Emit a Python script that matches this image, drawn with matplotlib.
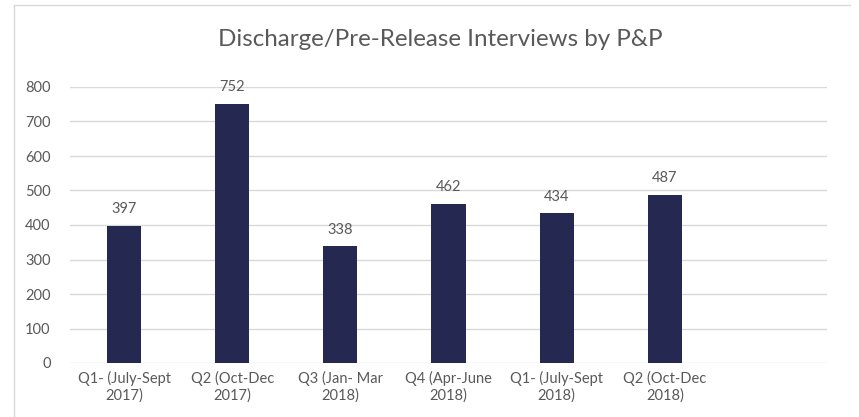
import matplotlib.pyplot as plt
from matplotlib.lines import Line2D

categories = ["Q1- (July-Sept\n2017)", "Q2 (Oct-Dec\n2017)", "Q3 (Jan- Mar\n2018)",
              "Q4 (Apr-June\n2018)", "Q1- (July-Sept\n2018)", "Q2 (Oct-Dec\n2018)", ""]
interviews = [397, 752, 338, 462, 434, 487]
yticks = [0, 100, 200, 300, 400, 500, 600, 700, 800]

plt.rcParams['font.family'] = ['Lato', 'DejaVu Sans']
text_color = '#595959'
bar_color = '#252850'
grid_color = '#D9D9D9'

fig = plt.figure(figsize=(8.59, 4.17), dpi=100)
ax = fig.add_axes([70 / 859, 1 - 363 / 417, (827 - 70) / 859, (363 - 87) / 417])

x = list(range(len(categories)))
bars = ax.bar(x[:len(interviews)], interviews, width=0.315, color=bar_color, zorder=3)
for rect, v in zip(bars, interviews):
    ax.annotate(str(v), (rect.get_x() + rect.get_width() / 2, v), xytext=(0, 7),
                textcoords='offset points', ha='center', va='bottom',
                fontsize=10.5, color=text_color)

ax.set_xlim(-0.5, len(categories) - 0.5)
ax.set_ylim(0, 800)
ax.set_yticks(yticks)
ax.set_xticks(x)
ax.set_xticklabels(categories, fontsize=10.5, color=text_color, linespacing=1.15)
ax.tick_params(axis='y', labelsize=10.5, labelcolor=text_color, length=0, pad=14)
ax.tick_params(axis='x', length=0, pad=6)
ax.grid(axis='y', color=grid_color, linewidth=1, zorder=0)
for s in ax.spines.values():
    s.set_visible(False)

fig.text(440 / 859, 1 - 40 / 417, "Discharge/Pre-Release Interviews by P&P",
         ha='center', va='center', fontsize=17.4, color=text_color)

# chart frame (top and left edges visible)
fig.add_artist(Line2D([14 / 859, 850 / 859], [1 - 5 / 417, 1 - 5 / 417],
                      color=grid_color, linewidth=1, transform=fig.transFigure))
fig.add_artist(Line2D([14 / 859, 14 / 859], [1 - 5 / 417, 0],
                      color=grid_color, linewidth=1, transform=fig.transFigure))

fig.savefig('out.png', dpi=100)
